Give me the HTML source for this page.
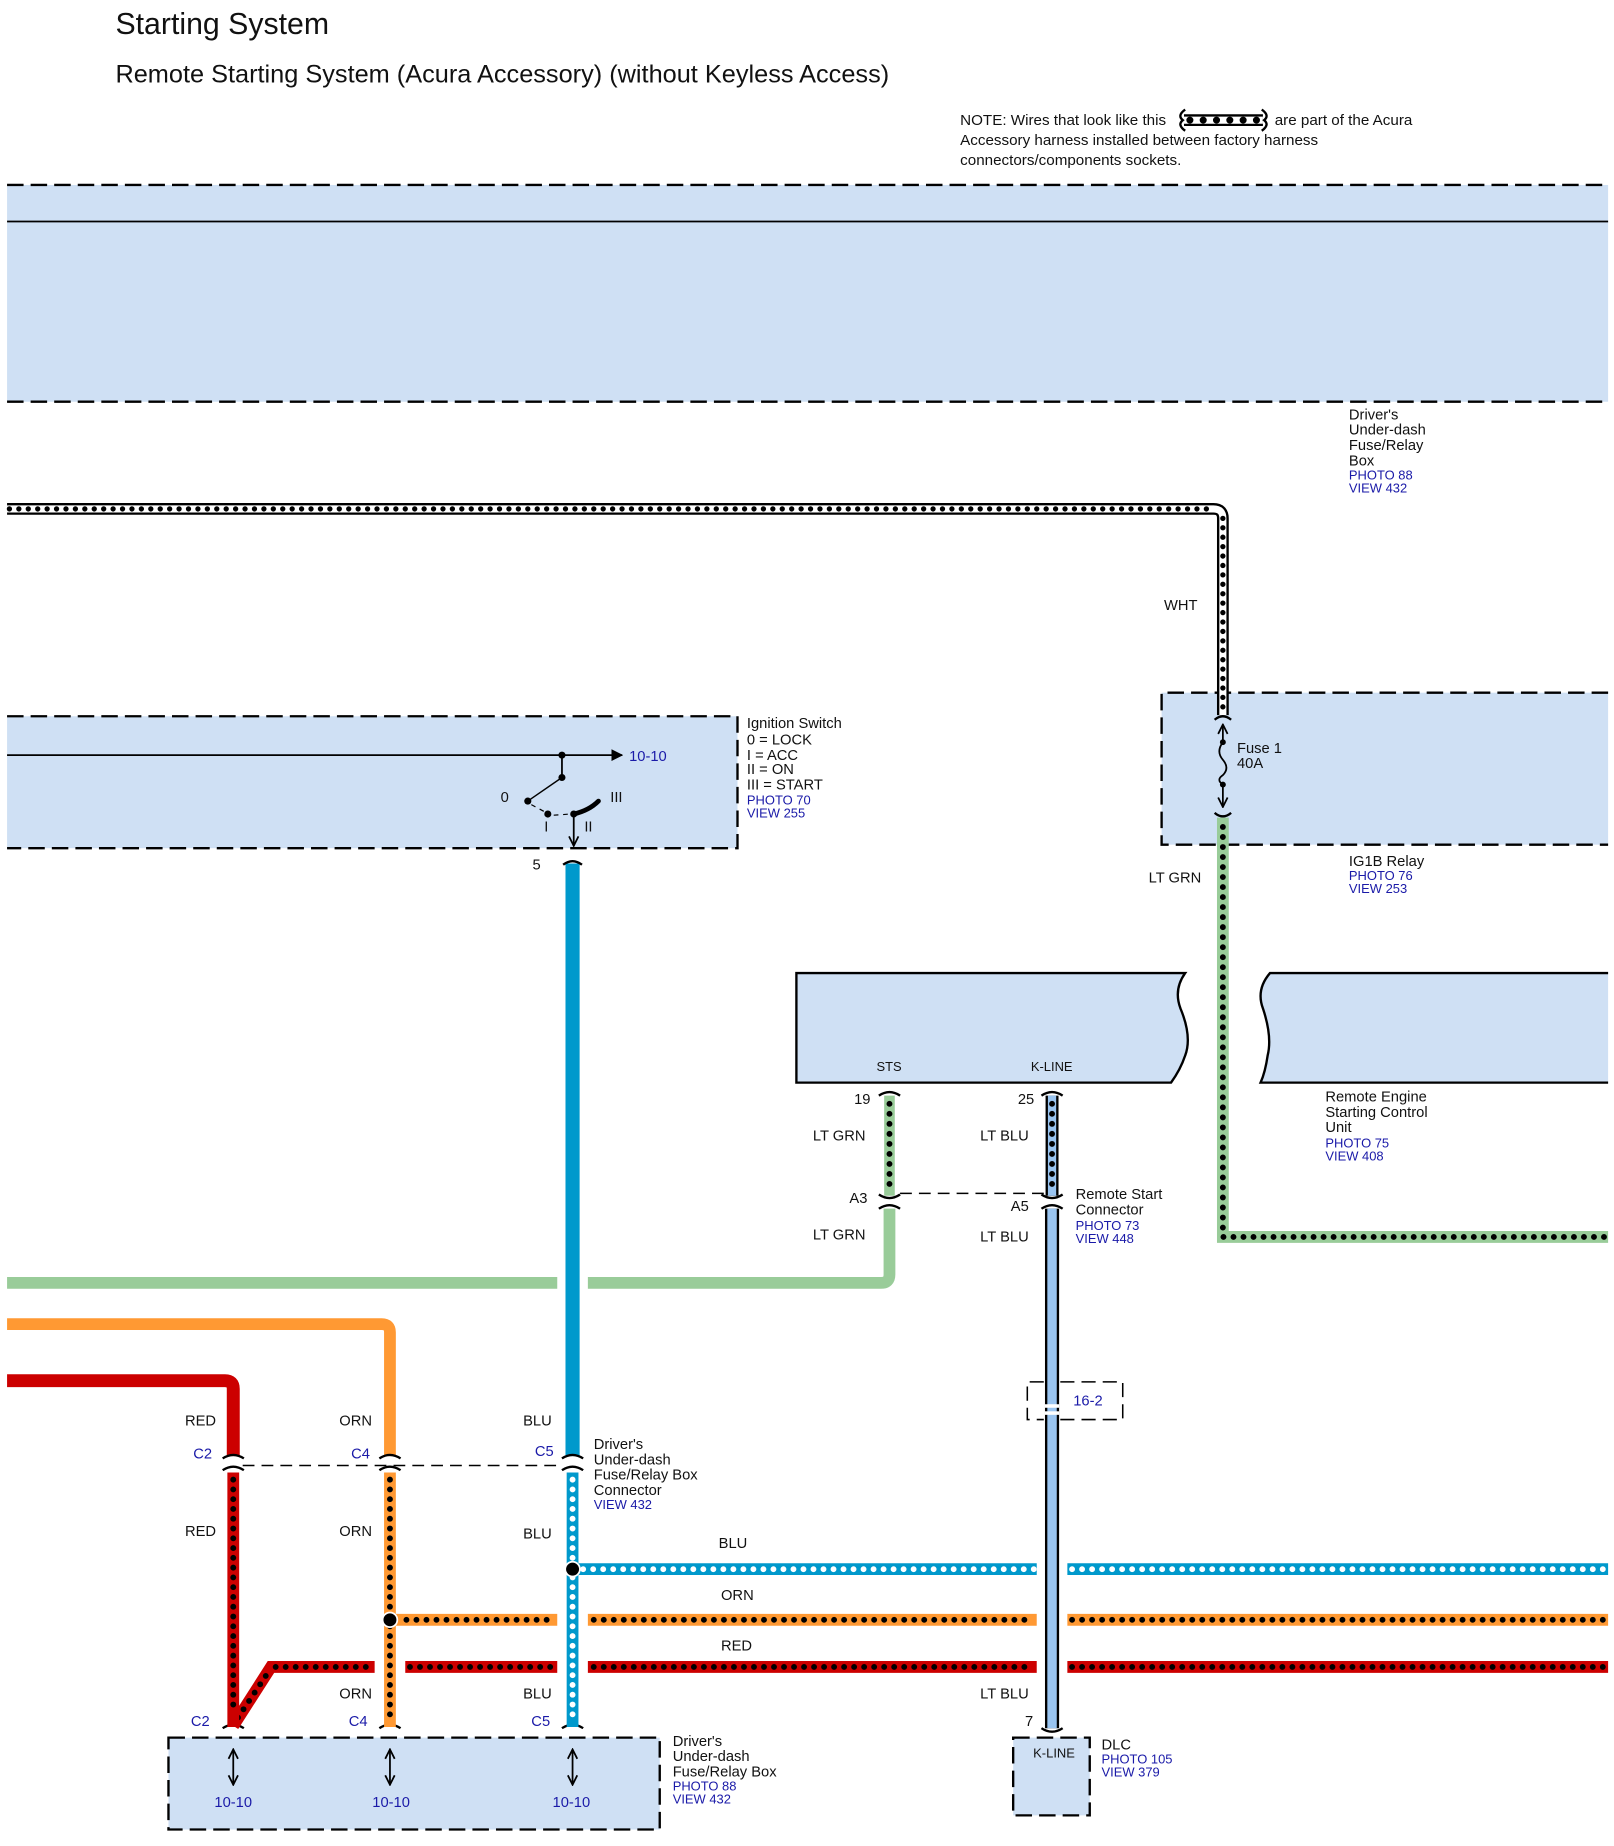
<!DOCTYPE html>
<html><head><meta charset="utf-8"><style>
html,body{margin:0;padding:0;background:#fff;}
svg{display:block;}
text{font-family:"Liberation Sans",Arial,sans-serif;}
.t{font-size:12.5px;fill:#111;}
.b{font-size:11px;fill:#1a1aa8;}
.bl{font-size:12.5px;fill:#1a1aa8;}
</style></head><body>
<svg width="1614" height="1846" viewBox="0 0 1370 1567" preserveAspectRatio="none" xmlns="http://www.w3.org/2000/svg">
<defs>
<marker id="ah" markerWidth="10" markerHeight="10" refX="9" refY="5" orient="auto" markerUnits="userSpaceOnUse"><path d="M0,0 L10,5 L0,10 z" fill="#000"/></marker>
<marker id="oa" markerWidth="10" markerHeight="10" refX="9" refY="5" orient="auto-start-reverse" markerUnits="userSpaceOnUse"><path d="M1,1 L9,5 L1,9" fill="none" stroke="#000" stroke-width="1.5"/></marker>
</defs>
<rect width="1370" height="1567" fill="#fff"/>
<text x="98" y="29" style="font-size:25.7px" fill="#111">Starting System</text>
<text x="98" y="70" style="font-size:21.5px" fill="#111">Remote Starting System (Acura Accessory) (without Keyless Access)</text>
<text class="t" x="815" y="106" style="font-size:12.9px">NOTE: Wires that look like this</text>
<text class="t" x="1082" y="106" style="font-size:12.9px">are part of the Acura</text>
<text class="t" x="815" y="123" style="font-size:12.9px">Accessory harness installed between factory harness</text>
<text class="t" x="815" y="140" style="font-size:12.9px">connectors/components sockets.</text>
<line x1="1005" y1="102" x2="1072" y2="102" stroke="#000" stroke-width="10"/>
<line x1="1005" y1="102" x2="1072" y2="102" stroke="#fff" stroke-width="6"/>
<line x1="1010" y1="102" x2="1068" y2="102" stroke="#000" stroke-width="6" stroke-linecap="round" stroke-dasharray="0 11.3"/>
<path d="M1006,93 Q999,98 1004,102 Q999,106 1006,111 M1071,93 Q1078,98 1073,102 Q1078,106 1071,111" fill="none" stroke="#000" stroke-width="2"/>

<!-- top box -->
<rect x="6" y="157" width="1359" height="184" fill="#cfe0f4"/>
<line x1="6" y1="157" x2="1365" y2="157" stroke="#000" stroke-width="2" stroke-dasharray="14 6"/>
<line x1="6" y1="341" x2="1365" y2="341" stroke="#000" stroke-width="2" stroke-dasharray="14 6"/>
<line x1="6" y1="188" x2="1365" y2="188" stroke="#000" stroke-width="1.5"/>
<text class="t" x="1145" y="356">Driver's</text>
<text class="t" x="1145" y="369">Under-dash</text>
<text class="t" x="1145" y="382">Fuse/Relay</text>
<text class="t" x="1145" y="395">Box</text>
<text class="b" x="1145" y="407">PHOTO 88</text>
<text class="b" x="1145" y="418">VIEW 432</text>

<!-- IG1B box -->
<rect x="986" y="588" width="379" height="129" fill="#cfe0f4"/>
<path d="M1365,588 H986 V717 H1365" fill="none" stroke="#000" stroke-width="2" stroke-dasharray="14 6"/>

<!-- accessory white wire -->
<path d="M6,432 H1030 Q1038,432 1038,440 V607" fill="none" stroke="#000" stroke-width="10"/>
<path d="M6,432 H1030 Q1038,432 1038,440 V607" fill="none" stroke="#fff" stroke-width="6"/>
<path d="M8,432 H1030 M1038,440 V605" fill="none" stroke="#000" stroke-width="4.5" stroke-linecap="round" stroke-dasharray="0 8"/>
<text class="t" x="988" y="518">WHT</text>

<path d="M1031,611 Q1038,605 1045,611" fill="none" stroke="#000" stroke-width="2"/>
<path d="M1031,690 Q1038,696 1045,690" fill="none" stroke="#000" stroke-width="2"/>
<line x1="1038" y1="630" x2="1038" y2="615" stroke="#000" stroke-width="1.5" marker-end="url(#oa)"/>
<line x1="1038" y1="666" x2="1038" y2="685" stroke="#000" stroke-width="1.5" marker-end="url(#oa)"/>
<path d="M1038,630 Q1032,638 1038,645 Q1044,652 1038,658 Q1032,662 1038,666" fill="none" stroke="#000" stroke-width="1.5"/>
<circle cx="1038" cy="630" r="2.5"/><circle cx="1038" cy="666" r="2.5"/>
<text class="t" x="1050" y="639">Fuse 1</text>
<text class="t" x="1050" y="652">40A</text>
<text class="t" x="1145" y="735">IG1B Relay</text>
<text class="b" x="1145" y="747">PHOTO 76</text>
<text class="b" x="1145" y="758">VIEW 253</text>

<!-- LT GRN dotted right -->
<path d="M1038,694 V1050 H1365" fill="none" stroke="#99cc99" stroke-width="10"/>
<path d="M1038,702 V1050 H1365" fill="none" stroke="#000" stroke-width="5" stroke-linecap="round" stroke-dasharray="0 8.5"/>
<text class="t" x="975" y="749">LT GRN</text>

<!-- Ignition box -->
<rect x="6" y="608" width="620" height="112" fill="#cfe0f4"/>
<path d="M6,608 H626 V720 H6" fill="none" stroke="#000" stroke-width="2" stroke-dasharray="14 6"/>
<line x1="6" y1="641" x2="528" y2="641" stroke="#000" stroke-width="1.5" marker-end="url(#ah)"/>
<text class="bl" x="534" y="646">10-10</text>
<line x1="477" y1="641" x2="477" y2="660" stroke="#000" stroke-width="1.5"/>
<circle cx="477" cy="641" r="3"/><circle cx="477" cy="660" r="3"/>
<line x1="477" y1="660" x2="448" y2="680" stroke="#000" stroke-width="1.2"/>
<circle cx="448" cy="680" r="3"/>
<path d="M451,683 L464,690 M470,692 L484,691" fill="none" stroke="#000" stroke-width="1" stroke-dasharray="4 4"/>
<circle cx="465" cy="691" r="3"/><circle cx="487" cy="691" r="3"/>
<path d="M487,691 Q500,688 508,680" fill="none" stroke="#000" stroke-width="4" stroke-linecap="round"/>
<line x1="487" y1="691" x2="487" y2="718" stroke="#000" stroke-width="1.5" marker-end="url(#oa)"/>
<text class="t" x="425" y="681">0</text>
<text class="t" x="462" y="706">I</text>
<text class="t" x="496" y="706">II</text>
<text class="t" x="518" y="681">III</text>
<text class="t" x="634" y="618">Ignition Switch</text>
<text class="t" x="634" y="632">0 = LOCK</text>
<text class="t" x="634" y="645">I = ACC</text>
<text class="t" x="634" y="657">II = ON</text>
<text class="t" x="634" y="670">III = START</text>
<text class="b" x="634" y="683">PHOTO 70</text>
<text class="b" x="634" y="694">VIEW 255</text>
<text class="t" x="452" y="738">5</text>

<!-- BLU solid -->
<line x1="486" y1="733" x2="486" y2="1236" stroke="#0099cc" stroke-width="12"/>
<path d="M478,734 Q486,728 494,734" fill="none" stroke="#000" stroke-width="2"/>

<!-- Remote engine unit -->
<path d="M676,826 H1006 Q996,840 1002,856 Q1012,880 1006,896 Q1002,908 994,919 H676 Z" fill="#cfe0f4" stroke="#000" stroke-width="2"/>
<path d="M1365,826 H1078 Q1066,840 1072,856 Q1080,880 1076,896 Q1074,910 1070,919 H1365" fill="#cfe0f4" stroke="#000" stroke-width="2"/>
<text class="t" x="744" y="909" style="font-size:11px">STS</text>
<text class="t" x="875" y="909" style="font-size:11px">K-LINE</text>
<text class="t" x="1125" y="935">Remote Engine</text>
<text class="t" x="1125" y="948">Starting Control</text>
<text class="t" x="1125" y="961">Unit</text>
<text class="b" x="1125" y="974">PHOTO 75</text>
<text class="b" x="1125" y="985">VIEW 408</text>

<!-- STS / K-LINE short wires -->
<line x1="755" y1="930" x2="755" y2="1015" stroke="#99cc99" stroke-width="9"/>
<line x1="755" y1="937" x2="755" y2="1010" stroke="#000" stroke-width="5" stroke-linecap="round" stroke-dasharray="0 8.5"/>
<line x1="893" y1="930" x2="893" y2="1015" stroke="#000" stroke-width="11"/>
<line x1="893" y1="930" x2="893" y2="1015" stroke="#99c4f0" stroke-width="7"/>
<line x1="893" y1="937" x2="893" y2="1010" stroke="#000" stroke-width="5" stroke-linecap="round" stroke-dasharray="0 8.5"/>
<g fill="none" stroke="#000" stroke-width="2">
<path d="M746,930 Q755,924 764,930"/><path d="M884,930 Q893,924 902,930"/>
<path d="M746,1014 Q755,1020 764,1014"/><path d="M884,1014 Q893,1020 902,1014"/>
<path d="M746,1026 Q755,1020 764,1026"/><path d="M884,1026 Q893,1020 902,1026"/>
</g>
<line x1="764" y1="1013" x2="888" y2="1013" stroke="#000" stroke-width="1.3" stroke-dasharray="10 6"/>
<text class="t" x="725" y="937">19</text>
<text class="t" x="864" y="937">25</text>
<text class="t" x="690" y="968">LT GRN</text>
<text class="t" x="832" y="968">LT BLU</text>
<text class="t" x="721" y="1021">A3</text>
<text class="t" x="858" y="1028">A5</text>
<text class="t" x="690" y="1052">LT GRN</text>
<text class="t" x="832" y="1054">LT BLU</text>
<text class="t" x="913" y="1018">Remote Start</text>
<text class="t" x="913" y="1031">Connector</text>
<text class="b" x="913" y="1044">PHOTO 73</text>
<text class="b" x="913" y="1055">VIEW 448</text>

<!-- LT GRN solid -->
<path d="M755,1026 V1082 Q755,1089 748,1089 H499 M473,1089 H6" fill="none" stroke="#99cc99" stroke-width="10"/>
<!-- LT BLU solid -->
<line x1="893" y1="1026" x2="893" y2="1467" stroke="#000" stroke-width="12"/>
<line x1="893" y1="1026" x2="893" y2="1467" stroke="#99c4f0" stroke-width="8"/>
<path d="M884,1467 Q893,1473 902,1467" fill="none" stroke="#000" stroke-width="2"/>
<rect x="887" y="1192" width="12" height="3" fill="#fff"/><rect x="887" y="1198" width="12" height="3" fill="#fff"/>
<path d="M886,1173 H872 V1205 H886 M900,1173 H953 V1205 H900" fill="none" stroke="#000" stroke-width="1.3" stroke-dasharray="12 6"/>
<text class="bl" x="911" y="1193">16-2</text>

<!-- ORN / RED solid -->
<path d="M6,1124 H324 Q331,1124 331,1131 V1236" fill="none" stroke="#ff9933" stroke-width="10"/>
<path d="M6,1172 H191 Q198,1172 198,1179 V1236" fill="none" stroke="#cc0000" stroke-width="11"/>
<text class="t" x="157" y="1210">RED</text>
<text class="t" x="288" y="1210">ORN</text>
<text class="t" x="444" y="1210">BLU</text>
<text class="bl" x="164" y="1238">C2</text>
<text class="bl" x="298" y="1238">C4</text>
<text class="bl" x="454" y="1236">C5</text>
<line x1="206" y1="1244" x2="478" y2="1244" stroke="#000" stroke-width="1.3" stroke-dasharray="10 6"/>
<g fill="none" stroke="#000" stroke-width="2">
<path d="M189,1238 Q198,1232 207,1238"/><path d="M322,1238 Q331,1232 340,1238"/><path d="M477,1238 Q486,1232 495,1238"/>
<path d="M189,1248 Q198,1242 207,1248"/><path d="M322,1248 Q331,1242 340,1248"/><path d="M477,1248 Q486,1242 495,1248"/>
<path d="M189,1467 Q198,1461 207,1467"/><path d="M322,1467 Q331,1461 340,1467"/><path d="M477,1467 Q486,1461 495,1467"/>
</g>
<text class="t" x="504" y="1230">Driver's</text>
<text class="t" x="504" y="1243">Under-dash</text>
<text class="t" x="504" y="1256">Fuse/Relay Box</text>
<text class="t" x="504" y="1269">Connector</text>
<text class="b" x="504" y="1281">VIEW 432</text>

<!-- lower dotted horizontals -->
<path d="M486,1332 H880 M906,1332 H1365" fill="none" stroke="#0099cc" stroke-width="10"/>
<path d="M495,1332 H878 M910,1332 H1365" fill="none" stroke="#fff" stroke-width="5" stroke-linecap="round" stroke-dasharray="0 8.5"/>
<path d="M331,1375 H473 M499,1375 H880 M906,1375 H1365" fill="none" stroke="#ff9933" stroke-width="10"/>
<path d="M345,1375 H470 M504,1375 H878 M910,1375 H1365" fill="none" stroke="#000" stroke-width="5" stroke-linecap="round" stroke-dasharray="0 8.5"/>
<path d="M198,1465 L230,1415 H318 M344,1415 H473 M499,1415 H880 M906,1415 H1365" fill="none" stroke="#cc0000" stroke-width="10"/>
<path d="M202,1458 L230,1416 M234,1415 H316 M348,1415 H470 M504,1415 H878 M910,1415 H1365" fill="none" stroke="#000" stroke-width="5" stroke-linecap="round" stroke-dasharray="0 8.5"/>
<text class="t" x="610" y="1314">BLU</text>
<text class="t" x="612" y="1358">ORN</text>
<text class="t" x="612" y="1401">RED</text>

<!-- lower dotted verticals -->
<line x1="198" y1="1250" x2="198" y2="1466" stroke="#cc0000" stroke-width="10"/>
<line x1="198" y1="1256" x2="198" y2="1455" stroke="#000" stroke-width="5" stroke-linecap="round" stroke-dasharray="0 8.3"/>
<line x1="331" y1="1250" x2="331" y2="1466" stroke="#ff9933" stroke-width="10"/>
<line x1="331" y1="1256" x2="331" y2="1460" stroke="#000" stroke-width="5" stroke-linecap="round" stroke-dasharray="0 8.3"/>
<line x1="486" y1="1250" x2="486" y2="1466" stroke="#0099cc" stroke-width="10"/>
<line x1="486" y1="1256" x2="486" y2="1460" stroke="#fff" stroke-width="5" stroke-linecap="round" stroke-dasharray="0 8.3"/>
<circle cx="486" cy="1332" r="7" fill="#fff"/><circle cx="486" cy="1332" r="5.5"/>
<circle cx="331" cy="1375" r="7" fill="#fff"/><circle cx="331" cy="1375" r="5.5"/>
<text class="t" x="157" y="1304">RED</text>
<text class="t" x="288" y="1304">ORN</text>
<text class="t" x="444" y="1306">BLU</text>
<text class="t" x="288" y="1442">ORN</text>
<text class="t" x="444" y="1442">BLU</text>
<text class="t" x="832" y="1442">LT BLU</text>
<text class="t" x="870" y="1465">7</text>
<text class="bl" x="162" y="1465">C2</text>
<text class="bl" x="296" y="1465">C4</text>
<text class="bl" x="451" y="1465">C5</text>

<!-- bottom box -->
<rect x="143" y="1475" width="417" height="78" fill="#cfe0f4"/>
<rect x="143" y="1475" width="417" height="78" fill="none" stroke="#000" stroke-width="2" stroke-dasharray="14 6"/>
<g stroke="#000" stroke-width="1.5">
<line x1="198" y1="1485" x2="198" y2="1515" marker-start="url(#oa)" marker-end="url(#oa)"/>
<line x1="331" y1="1485" x2="331" y2="1515" marker-start="url(#oa)" marker-end="url(#oa)"/>
<line x1="486" y1="1485" x2="486" y2="1515" marker-start="url(#oa)" marker-end="url(#oa)"/>
</g>
<text class="bl" x="182" y="1534">10-10</text>
<text class="bl" x="316" y="1534">10-10</text>
<text class="bl" x="469" y="1534">10-10</text>
<text class="t" x="571" y="1482">Driver's</text>
<text class="t" x="571" y="1495">Under-dash</text>
<text class="t" x="571" y="1508">Fuse/Relay Box</text>
<text class="b" x="571" y="1520">PHOTO 88</text>
<text class="b" x="571" y="1531">VIEW 432</text>

<!-- DLC -->
<rect x="860" y="1475" width="65" height="66" fill="#cfe0f4"/>
<rect x="860" y="1475" width="65" height="66" fill="none" stroke="#000" stroke-width="2" stroke-dasharray="14 6"/>
<text class="t" x="877" y="1492" style="font-size:11px">K-LINE</text>
<text class="t" x="935" y="1485">DLC</text>
<text class="b" x="935" y="1497">PHOTO 105</text>
<text class="b" x="935" y="1508">VIEW 379</text>
</svg>
</body></html>
